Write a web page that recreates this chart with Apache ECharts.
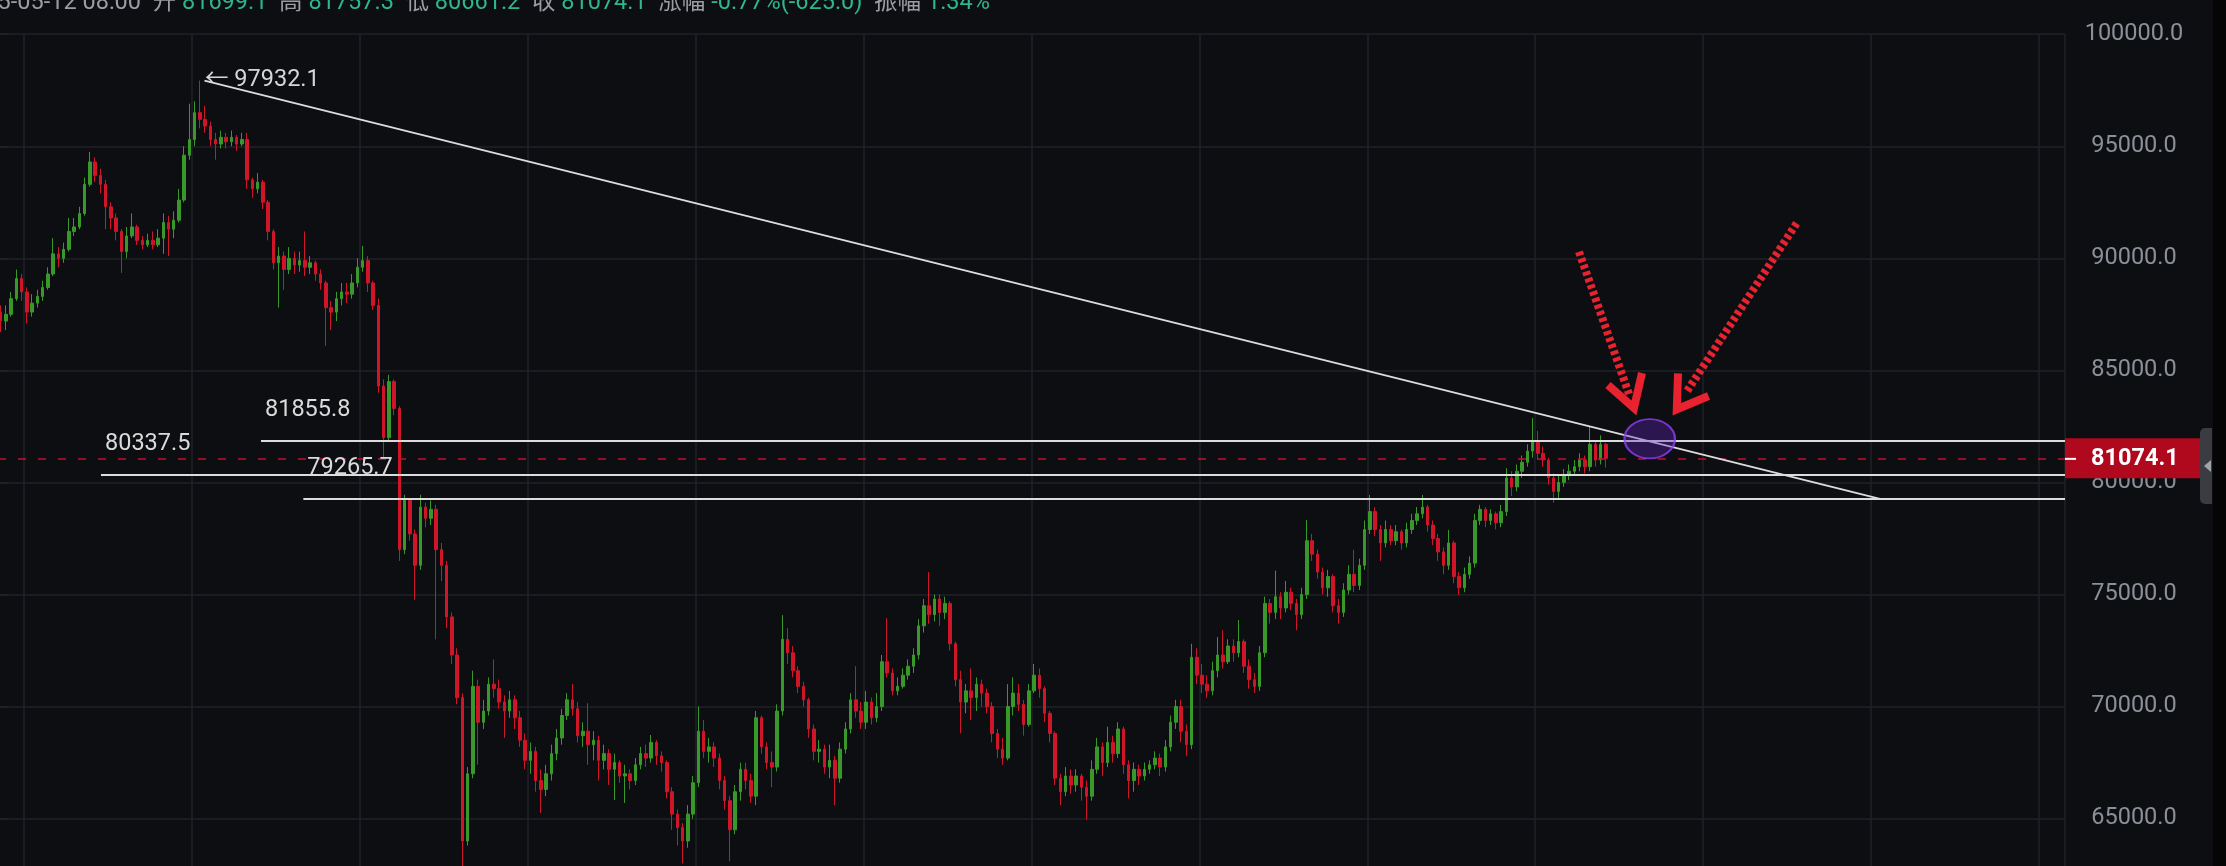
<!DOCTYPE html>
<html><head><meta charset="utf-8">
<script src="https://cdn.jsdelivr.net/npm/echarts@6/dist/echarts.min.js"></script>
<style>html,body{margin:0;padding:0;background:#0d0e11;overflow:hidden}#c{width:2226px;height:866px}</style>
</head><body><div id="c"></div>
<script>
// ---- data ----
const lastTime = '2025-05-12 08:00';
const firstOpen = 87600;
const closes = [
87200,87500,88200,89100,88500,87600,88000,88300,88700,89300,
90200,90000,90400,91200,91400,92000,93300,94300,93700,93300,
92300,91800,91200,90300,91000,91400,90800,90600,90800,90600,
90900,91600,91300,91700,92600,94600,95300,96500,96200,95900,
95300,95100,95400,95200,95400,95100,95300,93500,93100,93400,
92500,91200,89800,90100,89500,90000,89700,89900,89600,89800,
89300,88900,87800,87600,88200,88500,88400,88900,89600,89900,
88900,87900,84300,82000,84500,83300,77000,79200,77700,76300,
78900,78400,78800,77000,76300,74000,72300,70400,64000,67000,
70900,69300,69800,71000,70800,70200,69800,70300,69500,68500,
67600,68000,66700,66300,67000,67900,68600,69600,70300,69900,
68700,68900,68300,68500,67600,67900,67200,67500,66900,67000,
66700,67400,67900,67700,68400,67800,67500,66200,65200,64600,
64000,65200,66600,68900,68000,68200,67700,66700,65800,64500,
66200,67200,66700,66000,69500,68200,67500,67300,69800,73000,
72400,71600,70900,70300,69000,68000,68100,67300,67600,66800,
68100,69000,70300,69800,69300,70200,69500,70000,72000,71500,
70700,70900,71400,71800,72300,73600,74500,74100,74800,74200,
74600,72800,71200,70200,70700,70400,71000,70600,70000,68800,
68100,67700,70000,70600,70100,69200,70700,71400,70800,69700,
68800,66800,66200,66900,66500,66900,66400,66000,67200,68200,
67500,68400,67900,69000,67400,66700,67200,66900,67200,67400,
67700,67300,68200,69300,70000,68900,68300,72200,71400,71000,
70700,71600,72300,72000,72700,72400,72900,71800,71200,70900,
72400,74600,74200,74900,74400,75100,74600,74100,75000,77400,
76800,76000,75300,75800,74500,74200,75200,75900,75400,76300,
77900,78700,77900,77300,77900,77400,77800,77300,77900,78300,
78600,78900,78100,77500,76900,76300,77300,75800,75300,75900,
76400,78300,78800,78300,78600,78200,78700,80200,79800,80500,
80900,81400,81800,81300,81000,80200,79600,80000,80300,80500,
80700,81000,80700,81700,81000,81699.1,81074.1];
const highs = [
87900,87900,88500,89500,89300,88700,88400,88600,89000,89600,
90900,90500,90700,91800,91800,92300,93600,94750,94500,94000,
93500,92500,92000,91300,91400,92000,91500,91000,91100,91200,
91300,92000,91900,92100,93100,95000,96900,97000,97932.1,96800,
96100,95600,95700,95600,95700,95500,95600,95600,93600,93800,
93500,92600,91300,90500,90300,90500,90300,90300,91200,90100,
89900,89500,89000,88100,88500,88900,88900,89300,90000,90550,
90100,89000,88200,84600,84800,84600,83400,79450,79000,77900,
79450,79100,79200,79000,77300,76500,74200,72600,70600,67300,
71600,71200,70300,71300,72100,71200,70500,70700,70500,69800,
68800,68400,68200,67200,67400,68300,69000,69900,70600,71000,
70200,69300,70150,68900,68700,68300,68100,67900,67600,67400,
67200,67700,68200,68300,68730,68500,68000,67600,66400,65400,
64800,65600,66900,70000,69400,68600,68400,67900,66900,66000,
66500,67500,67500,67000,69800,69600,68400,68000,70100,74080,
73500,72700,71800,71100,70400,69200,68500,68300,68300,67800,
68400,69300,70600,71800,70200,70700,70400,70600,72300,73940,
71700,71300,71700,72100,72600,73900,74800,76000,75000,75000,
74900,74700,72900,71600,71000,71700,71300,71200,70800,70200,
69000,68600,71000,71300,71000,70300,71000,71900,71700,70900,
69800,68900,67000,67300,67200,67200,67000,66700,67600,68600,
68400,69100,68700,69300,69100,67600,67500,67400,67500,67600,
68000,67900,68500,69600,70300,70300,69200,72800,72600,71900,
71400,72000,73100,73400,73000,73000,73860,73000,72100,71500,
72700,74900,74800,76070,75100,75600,75300,74800,75300,78330,
77700,77000,76200,76100,75900,74800,75500,76300,77000,76600,
78300,79440,78900,78100,78300,78100,78100,77900,78200,78600,
78900,79440,79000,78300,77700,77100,77880,77400,76000,76200,
76700,78600,79000,78900,78800,78700,79000,80640,80500,80800,
81200,81700,82870,82300,81600,81100,80400,80300,80600,80800,
81000,81300,81200,82480,81900,82100,81757.3];
const lows = [
86700,86800,87400,88100,88100,87100,87400,87800,88100,88600,
89200,89600,89800,90300,91000,91300,91900,93200,93400,92900,
91300,91300,90800,89350,90000,90900,90600,90400,90500,90400,
90500,90200,90100,90900,91600,92500,94400,95000,95800,95600,
95000,94400,94900,94900,95000,94800,95000,93100,92700,92900,
92200,90800,89500,87800,88600,89300,89300,89400,89200,89300,
89000,88600,86100,86800,87200,87900,88000,88200,88700,89400,
88500,87700,84000,81133,81800,83000,76500,76800,77400,74755,
76100,78000,78100,73000,75600,73500,71900,70100,62300,63800,
66800,67400,69000,69600,70400,69900,68600,69500,69000,68200,
67200,67000,66200,65250,66000,66700,67600,68300,69400,69600,
68400,68200,67400,67600,66700,67200,66500,65830,66600,65700,
66300,66500,67200,67300,67500,67400,67100,65900,64500,63800,
63000,63700,65000,66400,67700,67500,67300,66300,65400,63100,
64300,65800,66300,65700,65600,67900,67200,66400,67100,69600,
71900,71300,70600,70000,68600,67600,67500,67000,66800,65600,
66600,67900,68800,69500,69000,69000,69200,69300,69800,71300,
70500,70500,70800,71200,71500,72100,73300,73700,73800,73600,
73900,72500,70900,68800,69700,69400,69800,70000,69700,68400,
67700,67400,67600,69600,69800,68700,69100,70600,70400,69300,
68400,66500,65600,66000,66100,66200,65800,64950,65800,67000,
66900,67300,67500,67700,67000,65900,66200,66500,66700,67000,
67200,66900,67100,68000,69000,68400,67800,68100,71000,70600,
70400,70500,71300,71700,71900,72000,72200,71500,70800,70600,
70700,72200,73700,73900,73900,74200,74300,73400,73900,74800,
76500,75700,75000,74900,74200,73700,74000,75000,75100,75200,
76100,77700,77600,76500,77100,77200,77200,77000,77100,77700,
78100,78400,77800,77200,76500,75900,76100,75500,74980,75100,
75700,76200,78100,78000,78100,77900,78000,78500,79400,79600,
80200,80700,81100,81000,80700,79900,79100,79300,79800,80100,
80300,80500,80400,80500,80700,80800,80661.2];
const futureSlots = 87;          // empty candle slots to the right
const yMin = 60000, yMax = 100000, yStep = 5000;
// annotations, x in candle-slot units, y in price
const peakPoint = [39.36, 97932.1];
const levelStarts = [19.63, 50.13, 58.2];
const levelPrices = [80337.5, 81855.8, 79265.7];
const trendLine = [[39.36, 97932.1], [358.74, 79265.7]];
const ellipseCenter = [314.84, 81951];
const arrow1Shaft = [[301.36, 90295], [310.89, 83946]];
const arrow1Head = [[306.89, 84347], [311.84, 83321], [313.37, 84883]];
const arrow2Shaft = [[342.84, 91562], [321.68, 83977]];
const arrow2Head = [[320.24, 84870], [320.0, 83263], [326.06, 83857]];

// ---- build ----
const ohlc = closes.map((c, i) => {
  const o = i === 0 ? firstOpen : closes[i - 1];
  return [o, c, Math.min(lows[i], o, c), Math.max(highs[i], o, c)];
});
const nSlots = closes.length + futureSlots;
const categories = Array.from({length: nSlots}, (_, i) => String(i));
const last = ohlc[ohlc.length - 1];
const lo = last[0], lc = last[1], ll = last[2], lh = last[3];
const chg = lc - lo, pct = chg / lo * 100, amp = (lh - ll) / lo * 100;
const headerText = `{g|${lastTime}}  {g|开} {v|${lo.toFixed(1)}}  {g|高} {v|${lh.toFixed(1)}}  {g|低} {v|${ll.toFixed(1)}}  {g|收} {v|${lc.toFixed(1)}}  {g|涨幅} {v|${pct.toFixed(2)}%(${chg.toFixed(1)})}  {g|振幅} {v|${amp.toFixed(2)}%}`;

const UP = '#38982a', DOWN = '#cf1528', GRID = '#1f2227', FONT = 'Roboto, "Noto Sans CJK SC", "DejaVu Sans"';
const ARROW = '#e8232f';

const chart = echarts.init(document.getElementById('c'), null, {renderer: 'canvas'});
chart.setOption({
  backgroundColor: '#0d0e11',
  animation: false,
  grid: {left: -2, top: 34.2, width: 2067, height: 896.46, containLabel: false, outerBoundsMode: 'none'},
  xAxis: [{
    type: 'category', data: categories, boundaryGap: true,
    axisLine: {show: false}, axisTick: {show: false}, axisLabel: {show: false},
    splitLine: {show: true, interval: (idx) => (idx - 5) % 32 === 0, lineStyle: {color: GRID, width: 1.5}}
  }, {
    type: 'value', min: 0, max: nSlots, show: false, splitLine: {show: false}
  }],
  yAxis: {
    type: 'value', position: 'right', min: yMin, max: yMax, interval: yStep, scale: false,
    axisLine: {show: true, lineStyle: {color: GRID, width: 1.5}},
    axisTick: {show: true, length: 10, lineStyle: {color: GRID, width: 1.5}},
    splitLine: {show: true, lineStyle: {color: GRID, width: 1.5}},
    axisLabel: {color: '#8b9098', fontSize: 23.5, fontFamily: FONT, align: 'center', margin: 69,
      formatter: v => v.toFixed(1)}
  },
  graphic: [
    {type: 'text', left: -42, top: -9, z: 100, style: {
      text: headerText, font: '23.5px ' + FONT, fill: '#9a9da4',
      rich: {g: {fill: '#9a9da4', fontSize: 23.5, fontFamily: FONT}, v: {fill: '#2fb68a', fontSize: 23.5, fontFamily: FONT}}
    }},
    {type: 'rect', z: 100, shape: {x: 2213, y: 0, width: 13, height: 866}, style: {fill: '#050506'}},
    {type: 'rect', z: 100, shape: {x: 2200, y: 428, width: 12, height: 76, r: [5, 0, 0, 5]}, style: {fill: '#3a3c42'}},
    {type: 'polygon', z: 101, shape: {points: [[2204, 466], [2211, 460], [2211, 472]]}, style: {fill: '#a0a3aa'}}
  ],
  series: [{
    type: 'candlestick', name: 'k', data: ohlc, barWidth: 3, z: 2, large: false,
    itemStyle: {color: UP, color0: DOWN, borderColor: UP, borderColor0: DOWN, borderWidth: 1},
    markLine: {
      silent: true, symbol: ['none', 'none'], animation: false, z: 5,
      data: [{yAxis: lc}],
      lineStyle: {color: '#c4102c', width: 1.6, type: [8, 12]},
      label: {
        show: true, position: 'end', distance: 0,
        formatter: '{d|}{p|' + lc.toFixed(1) + '}',
        backgroundColor: '#b0081d', padding: [8, 24, 7, 0],
        rich: {
          d: {width: 11, height: 2, backgroundColor: '#ffffff'},
          p: {color: '#ffffff', fontSize: 23.5, fontWeight: 'bold', fontFamily: FONT, lineHeight: 25, padding: [0, 0, 0, 15]}
        }
      }
    }
  }, {
    type: 'scatter', name: 'focus', xAxisIndex: 1, z: 6, silent: true,
    data: [ellipseCenter], symbol: 'circle', symbolSize: [50.5, 39.3],
    itemStyle: {color: 'rgba(100,38,190,0.45)', borderColor: '#8e40f2', borderWidth: 2},
    markLine: {
      silent: true, animation: false, z: 5, symbol: ['none', 'none'],
      lineStyle: {color: '#dcdcdc', width: 1.8, type: 'solid'},
      label: {show: true, position: 'insideStartTop', distance: [4, 19], color: '#dadada', fontSize: 23.5, fontFamily: FONT},
      data: levelPrices.map((p, k) => [
        {coord: [levelStarts[k], p], label: {formatter: p.toFixed(1)}},
        {coord: [nSlots, p]}
      ]).concat([[
        {coord: trendLine[0], label: {show: false}},
        {coord: trendLine[1]}
      ]])
    },
    markPoint: {
      silent: true, animation: false, z: 5, symbol: 'circle', symbolSize: 1,
      itemStyle: {color: 'rgba(0,0,0,0)'},
      label: {show: true, position: 'right', distance: 0, color: '#d6d6d6', fontSize: 23.5, fontFamily: FONT,
        formatter: '← ' + peakPoint[1].toFixed(1)},
      data: [{coord: peakPoint}]
    }
  },
  {type: 'line', xAxisIndex: 1, z: 7, silent: true, symbol: 'none', data: arrow1Shaft,
   lineStyle: {color: ARROW, width: 8, type: [4, 3], cap: 'butt'}},
  {type: 'line', xAxisIndex: 1, z: 7, silent: true, symbol: 'none', data: arrow2Shaft,
   lineStyle: {color: ARROW, width: 8, type: [4, 3], cap: 'butt'}},
  {type: 'line', xAxisIndex: 1, z: 7, silent: true, symbol: 'none', data: arrow1Head,
   lineStyle: {color: ARROW, width: 8, join: 'miter', cap: 'butt'}},
  {type: 'line', xAxisIndex: 1, z: 7, silent: true, symbol: 'none', data: arrow2Head,
   lineStyle: {color: ARROW, width: 8, join: 'miter', cap: 'butt'}}
  ]
});
</script>
</body></html>
